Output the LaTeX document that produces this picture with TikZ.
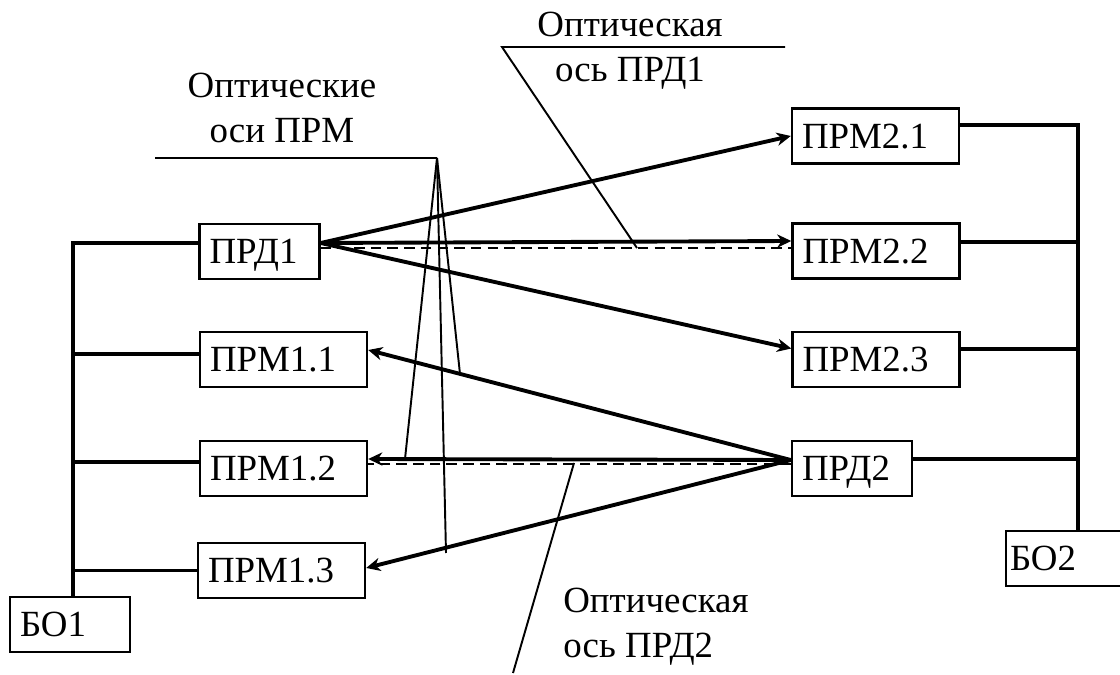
\documentclass[tikz,border=0pt]{standalone}
\usepackage{fontspec}
\setmainfont{Liberation Serif}
\usetikzlibrary{positioning, arrows.meta, calc}

\begin{document}
\begin{tikzpicture}[x=0.02cm, y=-0.02cm, font=\fontsize{21}{25.5}\selectfont,
	blok/.style={draw, line width=1.4pt, inner xsep=0.2cm, inner ysep=0pt, minimum height=1.1cm, align=left, text height=13.9pt, text depth=0pt},
	prm/.style={blok, text width=2.94cm},
	prd/.style={blok, text width=2cm},
	link/.style={line width=2.2pt},
	beam/.style={line width=2.2pt, -{Stealth[length=8pt, width=7.5pt, inset=2.5pt]}},
	optaxis/.style={line width=1pt, dash pattern=on 6pt off 3.5pt},
	leader/.style={line width=1.1pt},
	lbl/.style={inner sep=0pt}]
	\useasboundingbox (0,0) rectangle (1120,675);
	
	% Side 1
	\node[prd] (prd1) at (259.5,251.5) {ПРД1};
	\node[prm] (prm11) at (283.5,359.5) {ПРМ1.1};
	\node[prm] (prm12) at (283.5,468.5) {ПРМ1.2};
	\node[prm] (prm13) at (281.5,570.5) {ПРМ1.3};
	\node[prd] (bo1) at (70,624.5) {БО1};
	
	% Side 2
	\node[prm] (prm21) at (875.5,136) {ПРМ2.1};
	\node[prm] (prm22) at (876,251) {ПРМ2.2};
	\node[prm] (prm23) at (876,359.5) {ПРМ2.3};
	\node[prd] (prd2) at (852,468.5) {ПРД2};
	\node[prd, inner xsep=0.08cm, text width=2.24cm] (bo2) at (1066,558.5) {БО2};
	
	% Buses
	\coordinate (bus1) at (73,243);
	\coordinate (bus2) at (1078,125);
	\draw[link] ($(prd1.west)+(0,-8.5)$) -- (bus1) -- (bus1 |- bo1.north);
	\draw[link] ($(bus1 |- prm11.west)+(0,-5.5)$) -- ($(prm11.west)+(0,-5.5)$);
	\draw[link] ($(bus1 |- prm12.west)+(0,-6.5)$) -- ($(prm12.west)+(0,-6.5)$);
	\draw[link] (bus1 |- prm13.west) -- (prm13.west);
	\draw[link] ($(prm21.east)+(0,-11)$) -- (bus2) -- (bus2 |- bo2.north);
	\draw[link] ($(prm22.east)+(0,-9)$) -- ($(bus2 |- prm22.east)+(0,-9)$);
	\draw[link] ($(prm23.east)+(0,-10.5)$) -- ($(bus2 |- prm23.east)+(0,-10.5)$);
	\draw[link] ($(prd2.east)+(0,-9.5)$) -- ($(bus2 |- prd2.east)+(0,-9.5)$);
	
	% Beams from PRD1
	\draw[beam] ($(prd1.east)+(0,-8.5)$) -- (prm21.west);
	\draw[beam] ($(prd1.east)+(0,-8.5)$) -- ($(prm22.west)+(0,-10)$);
	\draw[beam] ($(prd1.east)+(0,-8.5)$) -- ($(prm23.west)+(0,-11)$);
	\draw[optaxis] ($(prd1.east)+(0,-3.5)$) -- ($(prm22.west)+(0,-3)$);
	
	% Beams from PRD2
	\draw[beam] ($(prd2.west)+(0,-8.5)$) -- ($(prm11.east)+(0,-9.5)$);
	\draw[beam] ($(prd2.west)+(0,-8.5)$) -- ($(prm12.east)+(0,-9.5)$);
	\draw[beam] ($(prd2.west)+(0,-8.5)$) -- ($(prm13.east)+(0,-2.5)$);
	\draw[optaxis] ($(prd2.west)+(0,-4.5)$) -- ($(prm12.east)+(0,-4.5)$);
	
	% Labels
	\node[lbl, align=center] (txtprm) at (282,108) {Оптические\\оси ПРМ};
	\node[lbl, align=center] (txtprd1) at (630,51) {Оптическая\\ось ПРД1};
	\node[lbl, align=left, anchor=west] (txtprd2) at (563,627) {Оптическая\\ось ПРД2};
	
	% Leaders
	\coordinate (k0) at (155,158);
	\coordinate (k1) at (437,158);
	\coordinate (k2) at (460,374);
	\coordinate (k3) at (405,459);
	\coordinate (k4) at (446,553);
	\draw[leader] (k0) -- (k1);
	\draw[leader] (k1) -- (k2);
	\draw[leader] (k1) -- (k3);
	\draw[leader] (k1) -- (k4);
	
	\coordinate (m0) at (785,47);
	\coordinate (m1) at (502,47);
	\coordinate (m2) at (637,248);
	\draw[leader] (m0) -- (m1) -- (m2);
	
	\coordinate (n1) at (574,463);
	\coordinate (n2) at (513,673);
	\draw[leader] (n1) -- (n2);
\end{tikzpicture}
\end{document}
